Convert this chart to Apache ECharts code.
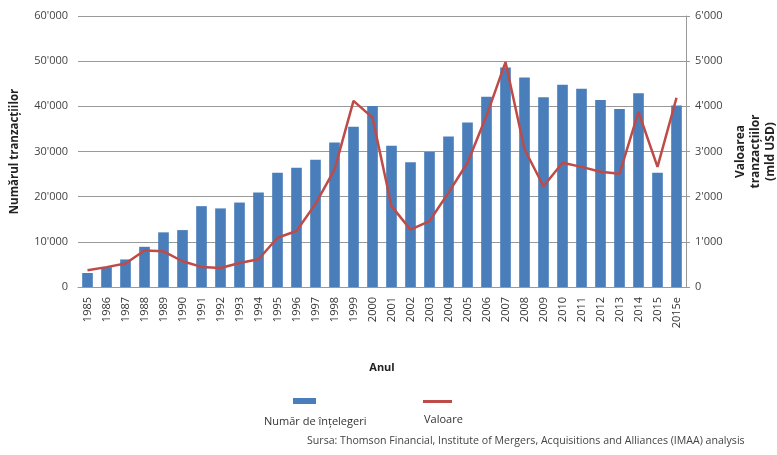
<!DOCTYPE html>
<html>
<head>
<meta charset="utf-8">
<script src="https://cdn.jsdelivr.net/npm/echarts@6/dist/echarts.min.js"></script>
<style>
html,body{margin:0;padding:0;background:#fff;}
#c{width:777px;height:455px;}
</style>
</head>
<body>
<div id="c"></div>
<script>
const categories = ['1985','1986','1987','1988','1989','1990','1991','1992','1993','1994','1995','1996','1997','1998','1999','2000','2001','2002','2003','2004','2005','2006','2007','2008','2009','2010','2011','2012','2013','2014','2015','2015e'];
const dealCount = [3100,4400,6100,8900,12100,12600,17900,17400,18700,20900,25300,26400,28200,32000,35500,40100,31300,27600,29900,33300,36400,42100,48600,46400,42000,44800,43900,41400,39400,42900,25300,40200];
const dealValue = [370,440,520,810,790,570,445,420,530,615,1090,1240,1840,2600,4120,3750,1790,1270,1460,2090,2750,3790,4980,3050,2230,2750,2660,2550,2510,3875,2660,4190];
const leftTicks = [0,10000,20000,30000,40000,50000,60000];
const rightTicks = [0,1000,2000,3000,4000,5000,6000];

const fmt = v => {
  const s = String(v);
  return s.length > 3 ? s.slice(0, s.length - 3) + "'" + s.slice(-3) : s;
};
const FONT = "'Open Sans', 'Liberation Sans', sans-serif";
const chart = echarts.init(document.getElementById('c'), null, {renderer: 'canvas'});
chart.setOption({
  animation: false,
  textStyle: {fontFamily: FONT},
  grid: {left: 78, right: 91, top: 16, bottom: 168, containLabel: false, outerBoundsMode: 'none'},
  xAxis: {
    type: 'category',
    data: categories,
    name: 'Anul',
    nameLocation: 'middle',
    nameGap: 75,
    nameTextStyle: {fontSize: 11, fontWeight: 'bold', color: '#222', fontFamily: FONT},
    axisLine: {lineStyle: {color: '#999'}},
    axisTick: {show: false},
    axisLabel: {rotate: 90, fontSize: 11, color: '#333', margin: 10, interval: 0, fontFamily: FONT}
  },
  yAxis: [
    {
      type: 'value', min: leftTicks[0], max: leftTicks[leftTicks.length - 1], interval: 10000,
      name: 'Numărul tranzacțiilor',
      nameLocation: 'middle', nameGap: 57, nameRotate: 90,
      nameTextStyle: {fontSize: 11.5, fontWeight: 'bold', color: '#222', fontFamily: FONT},
      axisLine: {show: false},
      axisTick: {show: false},
      axisLabel: {formatter: fmt, fontSize: 11, color: '#444', margin: 10, fontFamily: FONT},
      splitLine: {lineStyle: {color: '#999', width: 1}}
    },
    {
      type: 'value', min: rightTicks[0], max: rightTicks[rightTicks.length - 1], interval: 1000,
      position: 'right',
      name: 'Valoarea\ntranzacțiilor\n(mld USD)',
      nameLocation: 'middle', nameGap: 70, nameRotate: 90,
      nameTextStyle: {fontSize: 12, fontWeight: 'bold', color: '#222', lineHeight: 15, fontFamily: FONT, align: 'center', verticalAlign: 'middle'},
      axisLine: {show: true, lineStyle: {color: '#999'}},
      axisTick: {show: true, length: 4, lineStyle: {color: '#999'}},
      axisLabel: {formatter: fmt, fontSize: 11, color: '#444', margin: 9, fontFamily: FONT},
      splitLine: {show: false}
    }
  ],
  series: [
    {
      name: 'Număr de înțelegeri',
      type: 'bar',
      data: dealCount,
      barWidth: '56%',
      itemStyle: {color: '#4a7ebb'}
    },
    {
      name: 'Valoare',
      type: 'line',
      yAxisIndex: 1,
      data: dealValue,
      symbol: 'none',
      lineStyle: {color: '#be4b48', width: 2.5},
      itemStyle: {color: '#be4b48'}
    }
  ],
  graphic: [
    {type: 'rect', shape: {x: 293, y: 398, width: 23, height: 6}, style: {fill: '#4a7ebb'}},
    {type: 'text', left: 264, top: 416, style: {text: 'Număr de înțelegeri', font: '11px ' + FONT, fill: '#333'}},
    {type: 'rect', shape: {x: 423, y: 400, width: 29, height: 3}, style: {fill: '#be4b48'}},
    {type: 'text', left: 424, top: 414, style: {text: 'Valoare', font: '11px ' + FONT, fill: '#333'}},
    {type: 'text', left: 307, top: 435, style: {text: 'Sursa: Thomson Financial, Institute of Mergers, Acquisitions and Alliances (IMAA) analysis', font: '10.6px ' + FONT, fill: '#444'}}
  ]
});
</script>
</body>
</html>
